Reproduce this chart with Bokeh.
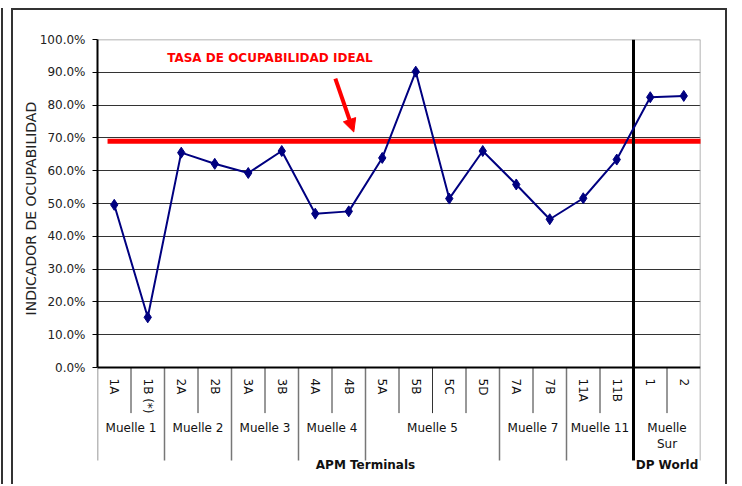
from bokeh.plotting import figure
from bokeh.models import (FactorRange, Range1d, LinearAxis, CategoricalAxis, FixedTicker,
                          PrintfTickFormatter, Label, Arrow, NormalHead, Grid)
from bokeh.embed import file_html
from bokeh.resources import INLINE

# ---------------- data ----------------
operators = ["APM Terminals"] * 16 + ["DP World"] * 2
piers = ["Muelle 1", "Muelle 1", "Muelle 2", "Muelle 2", "Muelle 3", "Muelle 3",
         "Muelle 4", "Muelle 4", "Muelle 5", "Muelle 5", "Muelle 5", "Muelle 5",
         "Muelle 7", "Muelle 7", "Muelle 11", "Muelle 11", "Muelle\nSur", "Muelle\nSur"]
berths = ["1A", "1B (*)", "2A", "2B", "3A", "3B", "4A", "4B", "5A", "5B", "5C", "5D",
          "7A", "7B", "11A", "11B", "1", "2"]
occupancy = [49.6, 15.3, 65.5, 62.1, 59.3, 66.0, 46.9, 47.6, 63.9, 90.2,
             51.5, 66.0, 55.8, 45.2, 51.6, 63.4, 82.4, 82.8]
ideal_rate = 69.0
ideal_label = "TASA DE OCUPABILIDAD IDEAL"
y_title = "INDICADOR DE OCUPABILIDAD"
y_ticks = [0, 10, 20, 30, 40, 50, 60, 70, 80, 90, 100]

FONT = "DejaVu Sans"
factors = list(zip(operators, piers, berths))
n = len(factors)

Y_BOTTOM = -35.67   # lower edge of the frame (whole label area)
Y_SEP = -28.35      # end of pier / operator separators
Y_SHORT = -13.9     # end of berth separators

W, H = 716, 476
# numeric positions below are synthetic coordinates of the FactorRange (0..n)
p = figure(width=W, height=H, output_backend="svg", toolbar_location=None,
           x_range=FactorRange(*factors, factor_padding=0, subgroup_padding=0,
                               group_padding=0, range_padding=0),
           y_range=Range1d(Y_BOTTOM, 100),
           x_axis_location=None, y_axis_location=None,
           min_border_left=84, min_border_right=29, min_border_top=29, min_border_bottom=2)
for g in list(p.grid):
    g.visible = False
p.outline_line_color = None
p.background_fill_color = "white"
p.border_fill_color = "white"
# outer chart border (left, top, right) plus the outer left rule
p.styles = {"margin-left": "11px", "margin-top": "8px",
            "border-left": "2px solid #333333", "border-top": "2px solid #333333",
            "border-right": "2px solid #333333",
            "box-shadow": "-8px 0 0 0 #ffffff, -10px 0 0 0 #333333"}

# grid lines
p.add_layout(Grid(dimension=1, ticker=FixedTicker(ticks=y_ticks[1:-1]),
                  grid_line_color="#333333", grid_line_width=1))

# y axis (leading no-break spaces lift the centred title towards the 0-100 band)
yaxis = LinearAxis(ticker=FixedTicker(ticks=y_ticks), formatter=PrintfTickFormatter(format="%.1f%%"),
                   bounds=(0, 100), axis_line_color="black", axis_line_width=2,
                   major_tick_out=5, major_tick_in=0, major_tick_line_color="black",
                   minor_tick_line_color=None, major_label_standoff=7,
                   major_label_text_font=FONT, major_label_text_font_size="12px",
                   major_label_text_color="#222222",
                   axis_label="\u00a0" * 24 + y_title, axis_label_standoff=-2,
                   axis_label_text_font=FONT, axis_label_text_font_size="14px",
                   axis_label_text_font_style="normal", axis_label_text_color="#222222")
p.add_layout(yaxis, "left")

# separators derived from the category structure
short_x, long_x, op_x = [], [0], []
for i in range(1, n):
    if operators[i] != operators[i - 1]:
        op_x.append(i)
    elif piers[i] != piers[i - 1]:
        long_x.append(i)
    else:
        short_x.append(i)

p.segment(x0=short_x, x1=short_x, y0=[0] * len(short_x), y1=[Y_SHORT] * len(short_x),
          line_color="#333333", line_width=1)
p.segment(x0=long_x, x1=long_x, y0=[0] * len(long_x), y1=[Y_SEP] * len(long_x),
          line_color="#777777", line_width=1.5)
# frame top and right
p.segment(x0=[0, n], x1=[n, n], y0=[100, 100], y1=[100, Y_SEP],
          line_color="#999999", line_width=1.5)

# ideal line
p.line(x=[0.3, n + 0.1], y=[ideal_rate, ideal_rate],
       line_color="#FF0000", line_width=5)

# operator divider
p.segment(x0=op_x, x1=op_x, y0=[100] * len(op_x), y1=[Y_SEP] * len(op_x),
          line_color="black", line_width=3)

# data
p.line(x=factors, y=occupancy, line_color="#000080", line_width=2)
p.scatter(x=factors, y=occupancy, marker="diamond", size=11, fill_color="#000080",
          line_color="#000080")

# x axis (nested categorical) fixed at 0
xaxis = CategoricalAxis(fixed_location=0, axis_line_color="black", axis_line_width=2,
                        major_tick_out=7, major_tick_in=0, major_tick_line_color=None,
                        minor_tick_line_color=None, separator_line_color=None,
                        major_label_orientation="vertical", major_label_standoff=4,
                        major_label_text_font=FONT, major_label_text_font_size="12px",
                        major_label_text_color="#111111",
                        subgroup_text_font=FONT, subgroup_text_font_size="12px",
                        subgroup_text_font_style="normal", subgroup_text_color="#111111",
                        group_text_font=FONT, group_text_font_size="12px",
                        group_text_font_style="bold", group_text_color="#111111")
p.add_layout(xaxis, "below")

# annotation
p.add_layout(Label(x=2.08, y=94.3, text=ideal_label,
                   text_color="#FF0000", text_font=FONT, text_font_size="12px",
                   text_font_style="bold", text_baseline="middle"))
p.add_layout(Arrow(x_start=7.10, y_start=88.1, x_end=7.65, y_end=71.8,
                   line_color="#FF0000", line_width=4,
                   end=NormalHead(size=13, fill_color="#FF0000", line_color="#FF0000")))

open("out.html", "w").write(file_html(p, INLINE))
